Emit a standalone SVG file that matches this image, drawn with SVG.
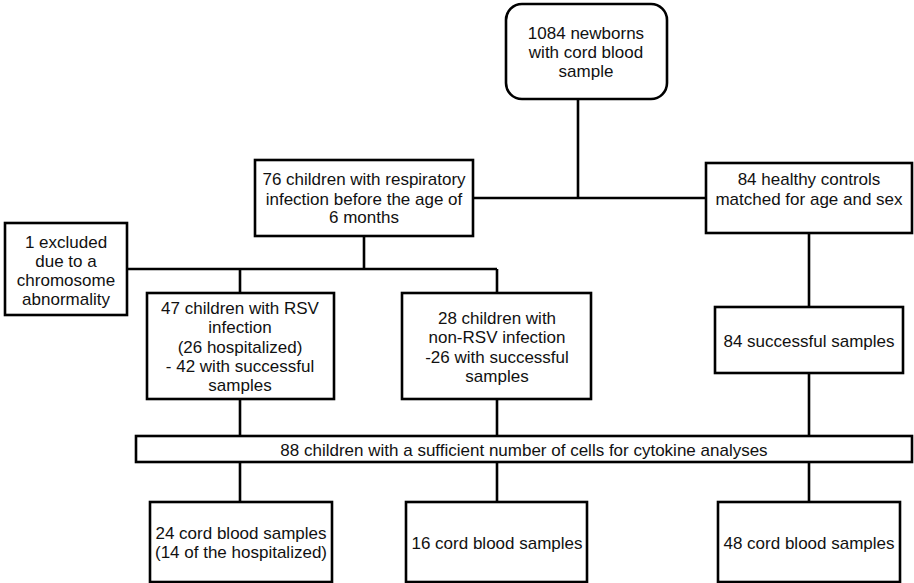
<svg xmlns="http://www.w3.org/2000/svg" width="914" height="583" viewBox="0 0 914 583">
<style>
.box{fill:#fff;stroke:#000;stroke-width:2.6}
.t{font-family:"Liberation Sans",Arial,sans-serif;font-size:17px;fill:#111;text-anchor:middle}
.c{fill:none;stroke:#000;stroke-width:2.6}
</style>
<rect width="914" height="583" fill="#fff"/>
<g id="connectors">
<path class="c" d="M578 99V198M473 198H706M364 236V269M127 269H497M240 269V293M497 269V293M809 233V307M240 399V436M497 399V436M809 373V436M240 462V502M497 462V502M809 462V502"/>
</g>
<g id="n_newborns">
<rect class="box" x="506" y="4" width="161" height="95" rx="16"/>
<text class="t" x="586" y="39">1084 newborns</text>
<text class="t" x="586" y="58">with cord blood</text>
<text class="t" x="586" y="77">sample</text>
</g>
<g id="n_resp">
<rect class="box" x="255" y="160" width="218" height="76"/>
<text class="t" x="364" y="185">76 children with respiratory</text>
<text class="t" x="364" y="205">infection before the age of</text>
<text class="t" x="364" y="223">6 months</text>
</g>
<g id="n_controls">
<rect class="box" x="706" y="163" width="206" height="70"/>
<text class="t" x="809" y="185">84 healthy controls</text>
<text class="t" x="809" y="205">matched for age and sex</text>
</g>
<g id="n_excluded">
<rect class="box" x="5" y="223" width="122" height="92"/>
<text class="t" x="66" y="248">1 excluded</text>
<text class="t" x="66" y="267">due to a</text>
<text class="t" x="66" y="286">chromosome</text>
<text class="t" x="66" y="305">abnormality</text>
</g>
<g id="n_rsv">
<rect class="box" x="147" y="293" width="187" height="106"/>
<text class="t" x="240" y="314">47 children with RSV</text>
<text class="t" x="240" y="333">infection</text>
<text class="t" x="240" y="353">(26 hospitalized)</text>
<text class="t" x="240" y="372">- 42 with successful</text>
<text class="t" x="240" y="391">samples</text>
</g>
<g id="n_nonrsv">
<rect class="box" x="402" y="293" width="189" height="106"/>
<text class="t" x="497" y="324">28 children with</text>
<text class="t" x="497" y="343">non-RSV infection</text>
<text class="t" x="497" y="363">-26 with successful</text>
<text class="t" x="497" y="382">samples</text>
</g>
<g id="n_success">
<rect class="box" x="715" y="307" width="188" height="66"/>
<text class="t" x="809" y="347">84 successful samples</text>
</g>
<g id="n_bar">
<rect class="box" x="136" y="436" width="776" height="26"/>
<text class="t" x="524" y="456">88 children with a sufficient number of cells for cytokine analyses</text>
</g>
<g id="n_cb24">
<rect class="box" x="150" y="502" width="182" height="80"/>
<text class="t" x="241" y="539">24 cord blood samples</text>
<text class="t" x="241" y="558">(14 of the hospitalized)</text>
</g>
<g id="n_cb16">
<rect class="box" x="406" y="502" width="181" height="80"/>
<text class="t" x="497" y="549">16 cord blood samples</text>
</g>
<g id="n_cb48">
<rect class="box" x="718" y="502" width="182" height="80"/>
<text class="t" x="809" y="549">48 cord blood samples</text>
</g>
</svg>
